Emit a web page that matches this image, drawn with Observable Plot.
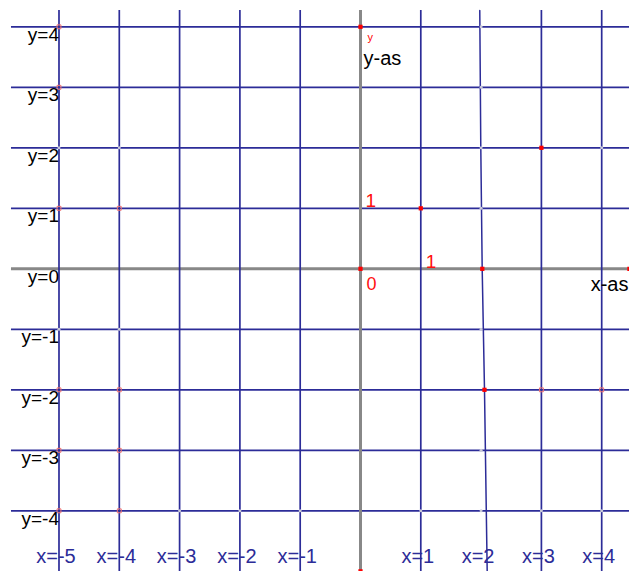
<!DOCTYPE html>
<html>
<head>
<meta charset="utf-8">
<script src="https://cdn.jsdelivr.net/npm/d3@7"></script>
<script src="https://cdn.jsdelivr.net/npm/@observablehq/plot@0.6"></script>
<style>
  html, body { margin: 0; padding: 0; background: #ffffff; }
  #chart svg { display: block; }
</style>
</head>
<body>
<div id="chart"></div>
<script>
// ---- data ----
const gridX = [-5, -4, -3, -2, -1, 1, 3, 4];          // vertical grid lines
const gridY = [-4, -3, -2, -1, 1, 2, 3, 4];            // horizontal grid lines
const xLabelPos = [-5, -4, -3, -2, -1, 1, 2, 3, 4];
const xLabels = ["x=-5", "x=-4", "x=-3", "x=-2", "x=-1", "x=1", "x=2", "x=3", "x=4"];
const yLabelPos = [4, 3, 2, 1, 0, -1, -2, -3, -4];
const yLabels = ["y=4", "y=3", "y=2", "y=1", "y=0", "y=-1", "y=-2", "y=-3", "y=-4"];
// hand-drawn line near x = 2
const curveX = [1.978, 1.995, 2.018, 2.056, 2.101];
const curveY = [4.27, 2.0, 0, -1.98, -5.0];
// red marked points
const redX = [0, 1, 3, 2.056, 2.02, 0, 0, 4.46];
const redY = [0, 1, 2, -2, 0, 4, -5.0, 0];
// pink hollow points
const pinkX = [-5, -5, -5, -4, -5, -4, -5, -4, -5, -4, 3, 4];
const pinkY = [4, 3, 1, 1, -2, -2, -3, -3, -4, -4, -2, -2];
// faint grey points
const greyX = [-5, -4, -5, -4, 4, 2, 2, 2, 2, 2, 2, 2, -3, -2, -1, 1, 3, 4];
const greyY = [2, 2, -1, -1, 2, 4, 3, 2, 1, -1, -3, -4, -4, -4, -4, -4, -4, -4];
// red unit labels: above the axes ("1") and the origin ("0")
const unitLabels = ["1", "1"];
const unitLabelX = [0, 1];
const unitLabelY = [1, 0];
const originLabel = ["0"];

// ---- frame extents ----
const xLeft = -5.788, xRight = 4.461;
const yTop = 4.269, yBottom = -5.003;

const navy = "#2c2c98";
const font = "Arial, 'Liberation Sans', sans-serif";

const chart = Plot.plot({
  width: 629,
  height: 571,
  margin: 0,
  style: { background: "#ffffff", fontFamily: font },
  x: { domain: [-5.970, 4.461], axis: null },
  y: { domain: [-5.003, 4.435], axis: null },
  marks: [
    Plot.ruleY(gridY, { x1: xLeft, x2: xRight, stroke: navy, strokeWidth: 1.7 }),
    Plot.ruleY([0], { x1: xLeft, x2: xRight, stroke: "#888888", strokeWidth: 3 }),
    Plot.ruleX([0], { y1: yTop, y2: yBottom, stroke: "#888888", strokeWidth: 3 }),
    Plot.ruleX(gridX, { y1: yTop, y2: yBottom, stroke: navy, strokeWidth: 1.7 }),
    Plot.line(curveX.map((x, i) => ({ x, y: curveY[i] })), { x: "x", y: "y", stroke: navy, strokeWidth: 1.5 }),
    Plot.dot(greyX.map((x, i) => ({ x, y: greyY[i] })), { x: "x", y: "y", r: 1.5, fill: "#c8c8d8", stroke: "none" }),
    Plot.dot(pinkX.map((x, i) => ({ x, y: pinkY[i] })), { x: "x", y: "y", symbol: "square", r: 2.2, fill: "none", stroke: "#f07070", strokeWidth: 1 }),
    Plot.dot(redX.map((x, i) => ({ x, y: redY[i] })), { x: "x", y: "y", symbol: "square", r: 2.4, fill: "#ff0000", stroke: "none" }),
    // y labels (black, left)
    Plot.text(yLabels.map((t, i) => ({ t, y: yLabelPos[i] })), {
      x: -5, y: "y", text: "t", textAnchor: "end", dx: 0, dy: 8,
      fontSize: 19, fill: "#000000"
    }),
    // x labels (navy, bottom)
    Plot.text(xLabels.map((t, i) => ({ t, x: xLabelPos[i] })), {
      x: "x", y: -4.755, text: "t", textAnchor: "middle", dx: -3,
      fontSize: 20, fill: navy
    }),
    // red unit labels
    Plot.text(unitLabels.map((t, i) => ({ t, x: unitLabelX[i], y: unitLabelY[i] })), {
      x: "x", y: "y", text: "t", textAnchor: "start",
      dx: 5, dy: -7, fontSize: 19, fill: "#ff1010"
    }),
    Plot.text(originLabel, {
      x: 0, y: 0, text: (d) => d, textAnchor: "start",
      dx: 6, dy: 15, fontSize: 18, fill: "#ff1010"
    }),
    // axis titles
    Plot.text(["y-as"], { x: 0, y: 4, text: (d) => d, textAnchor: "start", dx: 3, dy: 32, fontSize: 20, fill: "#000000" }),
    Plot.text(["y"], { x: 0, y: 4, text: (d) => d, textAnchor: "start", dx: 7, dy: 11, fontSize: 11, fill: "#ff0000" }),
    Plot.text(["x-as"], { x: xRight, y: 0, text: (d) => d, textAnchor: "end", dx: -1, dy: 16, fontSize: 20, fill: "#000000" })
  ]
});

document.getElementById("chart").appendChild(chart);
</script>
</body>
</html>
